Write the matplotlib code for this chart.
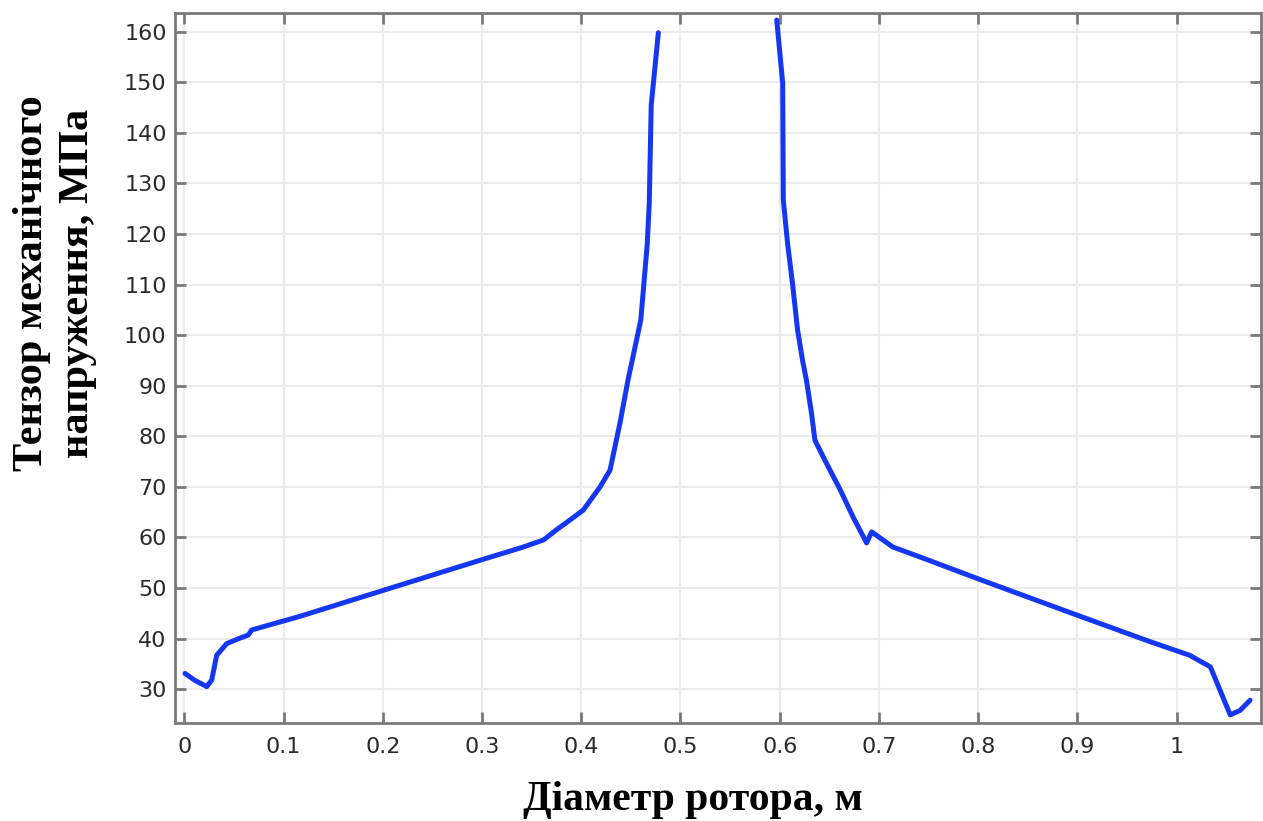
import matplotlib.pyplot as plt

# left branch of the stress curve (diameter, m / stress, MPa)
x_left = [0.0007, 0.010, 0.0226, 0.0276, 0.0326, 0.0427, 0.055, 0.0645, 0.0679,
          0.1166, 0.2, 0.3, 0.34, 0.362, 0.375, 0.389, 0.402, 0.419, 0.429,
          0.439, 0.447, 0.460, 0.4665, 0.4685, 0.4705, 0.4777]
y_left = [33.1, 31.8, 30.5, 31.8, 36.7, 39.0, 40.0, 40.7, 41.7,
          44.4, 49.5, 55.6, 58.0, 59.5, 61.5, 63.5, 65.4, 70.0, 73.3,
          82.6, 91.0, 103.0, 118.0, 126.0, 145.5, 159.8]

# right branch
x_right = [0.597, 0.603, 0.6036, 0.608, 0.613, 0.618, 0.623, 0.627, 0.632, 0.6355,
           0.647, 0.661, 0.674, 0.6876, 0.6926, 0.714, 0.75, 0.8, 0.9, 0.973,
           1.013, 1.034, 1.054, 1.064, 1.074]
y_right = [162.3, 149.8, 126.7, 118.0, 110.0, 101.0, 95.0, 91.0, 84.6, 79.2,
           74.7, 69.4, 64.0, 58.9, 61.1, 58.1, 55.5, 51.8, 44.6, 39.4,
           36.7, 34.4, 24.9, 25.8, 27.8]

xticks = [0, 0.1, 0.2, 0.3, 0.4, 0.5, 0.6, 0.7, 0.8, 0.9, 1.0]
xtick_labels = ['0', '0.1', '0.2', '0.3', '0.4', '0.5', '0.6', '0.7', '0.8', '0.9', '1']
yticks = list(range(30, 161, 10))

line_color = '#1537f2'
frame_color = '#7a7a7a'

fig = plt.figure(figsize=(12.63, 8.21), dpi=100)
ax = fig.add_axes([175 / 1263, 1 - 723 / 821, (1261 - 175) / 1263, (723 - 13) / 821])

ax.plot(x_left, y_left, color=line_color, lw=3.6, solid_joinstyle='round', solid_capstyle='round')
ax.plot(x_right, y_right, color=line_color, lw=3.6, solid_joinstyle='round', solid_capstyle='round')

ax.set_xlim(-0.0094, 1.085)
ax.set_ylim(23.3, 163.7)
ax.set_xticks(xticks)
ax.set_xticklabels(xtick_labels)
ax.set_yticks(yticks)

ax.grid(True, color='#ebebeb', lw=1.5)
ax.set_axisbelow(True)
for s in ax.spines.values():
    s.set_color(frame_color)
    s.set_linewidth(2)
ax.tick_params(direction='in', length=8, width=2, color=frame_color,
               top=True, right=True, labelsize=16, labelcolor='#2a2a2a')
ax.tick_params(axis='y', pad=6)
ax.tick_params(axis='x', pad=10)

fig.text(693 / 1263, 1 - 800 / 821, 'Діаметр ротора, м', ha='center', va='center',
         family='Liberation Serif', fontweight='bold', fontsize=30)
fig.text(55 / 1263, 1 - 283 / 821, 'Тензор механічного\nнапруження, МПа', ha='center', va='center',
         rotation=90, multialignment='center', linespacing=1.25,
         family='Liberation Serif', fontweight='bold', fontsize=30.5)

fig.savefig('out.png', dpi=100)
